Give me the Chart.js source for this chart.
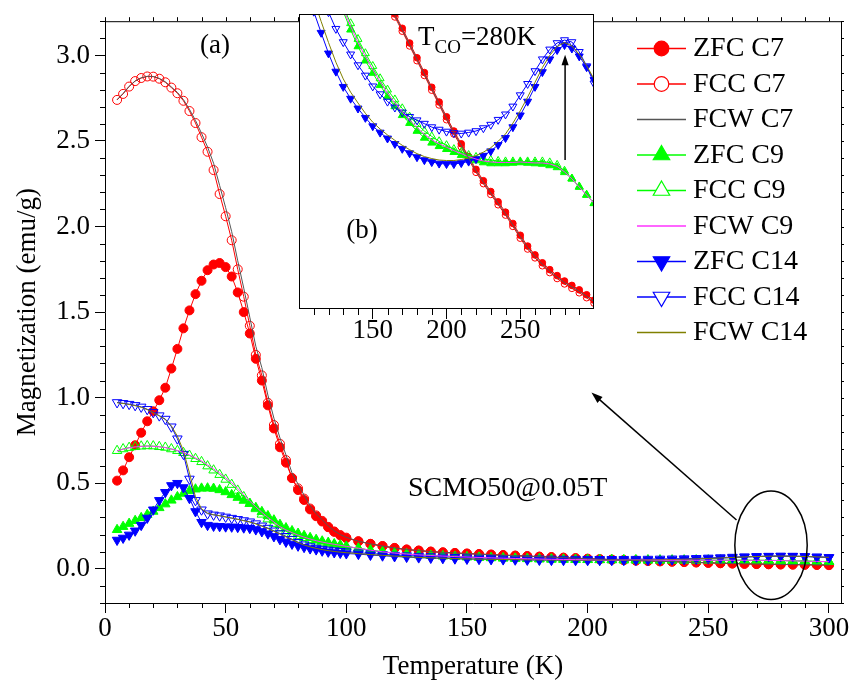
<!DOCTYPE html>
<html>
<head>
<meta charset="utf-8">
<script src="https://cdn.jsdelivr.net/npm/chart.js@4.4.0/dist/chart.umd.min.js"></script>
<style>
  body { margin: 0; background: #fff; }
  #wrap { position: relative; width: 854px; height: 689px; }
  #main { position: absolute; left: 0; top: 0; }
  #inset { position: absolute; left: 259px; top: 0; }
</style>
</head>
<body>
<div id="wrap">
  <canvas id="main" width="854" height="689"></canvas>
  <canvas id="inset" width="350" height="350"></canvas>
</div>
<script>
const FONT = "'Liberation Serif', 'Times New Roman', serif";

// temperature (K) of every measured point
const temps = [5, 7.5, 10, 12.5, 15, 17.5, 20, 22.5, 25, 27.5, 30, 32.5, 35, 37.5, 40, 42.5, 45, 47.5, 50, 52.5,
  55, 57.5, 60, 62.5, 65, 67.5, 70, 72.5, 75, 77.5, 80, 82.5, 85, 87.5, 90, 92.5, 95, 97.5, 100,
  105, 110, 115, 120, 125, 130, 135, 140, 145, 150, 155, 160, 165, 170, 175, 180, 185, 190, 195, 200,
  205, 210, 215, 220, 225, 230, 235, 240, 245, 250, 255, 260, 265, 270, 275, 280, 285, 290, 295, 300];

// magnetization (emu/g)
const zfcC7 = [0.515, 0.575, 0.652, 0.722, 0.795, 0.862, 0.920, 0.985, 1.058, 1.170, 1.285, 1.405, 1.510, 1.605, 1.683, 1.745, 1.778, 1.787, 1.763, 1.708,
  1.615, 1.500, 1.375, 1.227, 1.100, 0.955, 0.820, 0.710, 0.620, 0.530, 0.460, 0.402, 0.347, 0.307, 0.276, 0.243, 0.216, 0.195, 0.179,
  0.161, 0.146, 0.133, 0.122, 0.113, 0.1065, 0.1006, 0.0961, 0.0926, 0.0891, 0.0861, 0.0831, 0.0800, 0.0771, 0.0741, 0.0711, 0.0681, 0.0651, 0.0621, 0.0591,
  0.0562, 0.0536, 0.0510, 0.0484, 0.0461, 0.0439, 0.0418, 0.0397, 0.0374, 0.0350, 0.0328, 0.0310, 0.0294, 0.0280, 0.0268, 0.0257, 0.0248, 0.0239, 0.0229, 0.0218];
const fccC7 = [2.740, 2.775, 2.818, 2.850, 2.868, 2.877, 2.876, 2.864, 2.843, 2.812, 2.779, 2.735, 2.675, 2.605, 2.522, 2.437, 2.330, 2.190, 2.060, 1.920,
  1.750, 1.590, 1.420, 1.250, 1.130, 0.970, 0.840, 0.730, 0.635, 0.530, 0.470, 0.410, 0.352, 0.312, 0.280, 0.245, 0.218, 0.197, 0.182,
  0.160, 0.145, 0.132, 0.121, 0.112, 0.106, 0.100, 0.0955, 0.0920, 0.0885, 0.0855, 0.0825, 0.0794, 0.0765, 0.0735, 0.0705, 0.0675, 0.0645, 0.0615, 0.0585,
  0.0556, 0.0530, 0.0504, 0.0478, 0.0455, 0.0433, 0.0412, 0.0391, 0.0368, 0.0344, 0.0322, 0.0304, 0.0288, 0.0274, 0.0262, 0.0251, 0.0242, 0.0233, 0.0223, 0.0212];
const fcwC7 = [2.742, 2.778, 2.820, 2.851, 2.869, 2.878, 2.877, 2.866, 2.846, 2.816, 2.784, 2.742, 2.685, 2.620, 2.545, 2.465, 2.370, 2.240, 2.110, 1.970,
  1.800, 1.640, 1.470, 1.300, 1.175, 1.015, 0.880, 0.765, 0.665, 0.560, 0.495, 0.430, 0.368, 0.322, 0.287, 0.250, 0.222, 0.200, 0.184,
  0.161, 0.146, 0.133, 0.1215, 0.1125, 0.1062, 0.1003, 0.0958, 0.0922, 0.0887, 0.0857, 0.0827, 0.0797, 0.0768, 0.0738, 0.0708, 0.0678, 0.0648, 0.0618, 0.0588,
  0.0559, 0.0533, 0.0507, 0.0481, 0.0458, 0.0436, 0.0415, 0.0394, 0.0371, 0.0347, 0.0325, 0.0307, 0.0291, 0.0277, 0.0265, 0.0254, 0.0245, 0.0236, 0.0226, 0.0215];

const zfcC9 = [0.228, 0.246, 0.264, 0.281, 0.298, 0.316, 0.335, 0.356, 0.378, 0.400, 0.420, 0.440, 0.455, 0.465, 0.470, 0.471, 0.469, 0.461, 0.449, 0.432,
  0.416, 0.399, 0.381, 0.357, 0.333, 0.309, 0.284, 0.258, 0.238, 0.221, 0.206, 0.193, 0.181, 0.170, 0.161, 0.153, 0.145, 0.138, 0.131,
  0.120, 0.109, 0.099, 0.0915, 0.0855, 0.0805, 0.0768, 0.0734, 0.0705, 0.0680, 0.0655, 0.0632, 0.0612, 0.0594, 0.0578, 0.0562, 0.0548, 0.0538, 0.0531, 0.0525,
  0.0519, 0.0513, 0.0507, 0.0502, 0.0498, 0.0496, 0.0496, 0.0496, 0.0497, 0.0498, 0.0497, 0.0496, 0.0495, 0.0492, 0.0488, 0.0478, 0.0465, 0.0449, 0.0432, 0.0415];
const fccC9 = [0.690, 0.700, 0.708, 0.713, 0.716, 0.718, 0.717, 0.713, 0.709, 0.700, 0.690, 0.678, 0.662, 0.643, 0.625, 0.600, 0.576, 0.550, 0.522, 0.492,
  0.458, 0.420, 0.381, 0.350, 0.318, 0.290, 0.264, 0.238, 0.220, 0.205, 0.192, 0.181, 0.170, 0.161, 0.154, 0.147, 0.141, 0.135, 0.129,
  0.119, 0.108, 0.099, 0.092, 0.0865, 0.0815, 0.0781, 0.0749, 0.0720, 0.0694, 0.0669, 0.0646, 0.0626, 0.0608, 0.0591, 0.0576, 0.0562, 0.0551, 0.0541, 0.0533,
  0.0525, 0.0519, 0.0513, 0.0509, 0.0505, 0.0503, 0.0501, 0.0500, 0.0500, 0.0500, 0.0500, 0.0500, 0.0500, 0.0498, 0.0493, 0.0481, 0.0465, 0.0448, 0.0432, 0.0415];
const fcwC9 = [0.688, 0.699, 0.707, 0.712, 0.715, 0.717, 0.716, 0.713, 0.708, 0.700, 0.691, 0.680, 0.665, 0.648, 0.630, 0.607, 0.584, 0.559, 0.532, 0.503,
  0.470, 0.433, 0.395, 0.362, 0.330, 0.300, 0.273, 0.246, 0.227, 0.211, 0.197, 0.185, 0.174, 0.164, 0.156, 0.149, 0.143, 0.137, 0.131,
  0.120, 0.1085, 0.099, 0.092, 0.086, 0.081, 0.0775, 0.0742, 0.0713, 0.0687, 0.0662, 0.0639, 0.0619, 0.0601, 0.0584, 0.0569, 0.0555, 0.0544, 0.0536, 0.0529,
  0.0522, 0.0516, 0.0510, 0.0505, 0.0501, 0.0499, 0.0498, 0.0498, 0.0498, 0.0499, 0.0498, 0.0497, 0.0497, 0.0495, 0.0490, 0.0479, 0.0465, 0.0448, 0.0432, 0.0415];

const zfcC14 = [0.168, 0.180, 0.198, 0.222, 0.255, 0.297, 0.345, 0.400, 0.447, 0.487, 0.500, 0.475, 0.412, 0.335, 0.272, 0.255, 0.250, 0.248, 0.246, 0.245,
  0.243, 0.240, 0.237, 0.229, 0.218, 0.205, 0.189, 0.172, 0.157, 0.145, 0.134, 0.126, 0.118, 0.112, 0.105, 0.099, 0.095, 0.092, 0.089,
  0.0855, 0.0805, 0.0762, 0.0720, 0.0683, 0.0652, 0.0628, 0.0608, 0.0589, 0.0572, 0.0559, 0.0547, 0.0536, 0.0526, 0.0517, 0.0509, 0.0503, 0.0499, 0.0496, 0.0495,
  0.0495, 0.0497, 0.0500, 0.0505, 0.0512, 0.0521, 0.0534, 0.0548, 0.0570, 0.0594, 0.0622, 0.0652, 0.0682, 0.0708, 0.0727, 0.0737, 0.0730, 0.0714, 0.0692, 0.0666];
const fccC14 = [0.972, 0.967, 0.962, 0.955, 0.946, 0.932, 0.914, 0.895, 0.875, 0.830, 0.760, 0.670, 0.525, 0.400, 0.345, 0.322, 0.315, 0.310, 0.303, 0.296,
  0.289, 0.282, 0.275, 0.264, 0.251, 0.238, 0.222, 0.206, 0.190, 0.173, 0.155, 0.141, 0.130, 0.121, 0.115, 0.110, 0.106, 0.103, 0.100,
  0.094, 0.089, 0.0845, 0.0804, 0.0770, 0.0743, 0.0718, 0.0696, 0.0675, 0.0653, 0.0637, 0.0622, 0.0610, 0.0600, 0.0591, 0.0584, 0.0577, 0.0570, 0.0565, 0.0561,
  0.0558, 0.0557, 0.0559, 0.0562, 0.0568, 0.0575, 0.0585, 0.0596, 0.0612, 0.0635, 0.0658, 0.0684, 0.0708, 0.0728, 0.0741, 0.0747, 0.0743, 0.0723, 0.0694, 0.0659];
const fcwC14 = [0.970, 0.966, 0.960, 0.953, 0.944, 0.930, 0.912, 0.893, 0.872, 0.835, 0.775, 0.690, 0.560, 0.420, 0.350, 0.325, 0.316, 0.310, 0.303, 0.296,
  0.289, 0.281, 0.273, 0.262, 0.249, 0.235, 0.219, 0.203, 0.186, 0.170, 0.153, 0.139, 0.128, 0.119, 0.112, 0.106, 0.101, 0.097, 0.094,
  0.0885, 0.0830, 0.0785, 0.0742, 0.0702, 0.0668, 0.0641, 0.0619, 0.0598, 0.0580, 0.0566, 0.0554, 0.0543, 0.0533, 0.0524, 0.0516, 0.0510, 0.0506, 0.0503, 0.0502,
  0.0502, 0.0504, 0.0507, 0.0512, 0.0519, 0.0528, 0.0541, 0.0556, 0.0578, 0.0603, 0.0631, 0.0661, 0.0691, 0.0716, 0.0734, 0.0742, 0.0735, 0.0718, 0.0695, 0.0668];

const xTicks = [0, 50, 100, 150, 200, 250, 300];
const yTicks = [0, 0.5, 1, 1.5, 2, 2.5, 3];
const insetTicks = [150, 200, 250];

const RED = '#ff0000', GREEN = '#00ff00', BLUE = '#0000ff';

function pts(vals) {
  return temps.map((t, i) => ({ x: t, y: vals[i] }));
}

function makeSets(small) {
  const cr = small ? 3.3 : 4.5, tr = small ? 4.6 : 5.5;
  const clip = small ? 0 : undefined;
  const m = (label, vals, color, style, filled, rot, order) => ({
    label, data: pts(vals), showLine: true, borderColor: color, borderWidth: 1,
    pointStyle: style, pointRotation: rot, pointRadius: style === 'circle' ? cr : tr,
    pointBorderColor: color, pointBackgroundColor: filled ? color : 'rgba(0,0,0,0)',
    pointBorderWidth: 1, order, clip, filled
  });
  const l = (label, vals, color) => ({
    label, data: pts(vals), showLine: true, borderColor: color, borderWidth: 1,
    pointRadius: 0, order: 0, clip, isLine: true
  });
  return [
    m('ZFC C7', zfcC7, RED, 'circle', true, 0, 3),
    m('FCC C7', fccC7, RED, 'circle', false, 0, 3),
    l('FCW C7', fcwC7, '#555555'),
    m('ZFC C9', zfcC9, GREEN, 'triangle', true, 0, 2),
    m('FCC C9', fccC9, GREEN, 'triangle', false, 0, 2),
    l('FCW C9', fcwC9, '#ff33ff'),
    m('ZFC C14', zfcC14, BLUE, 'triangle', true, 180, 1),
    m('FCC C14', fccC14, BLUE, 'triangle', false, 180, 1),
    l('FCW C14', fcwC14, '#808000')
  ];
}

function drawMarker(ctx, style, rot, r, x, y, fill, stroke) {
  ctx.beginPath();
  if (style === 'circle') {
    ctx.arc(x, y, r, 0, Math.PI * 2);
  } else {
    let a = rot * Math.PI / 180;
    for (let k = 0; k < 3; k++) {
      const px = x + Math.sin(a) * r, py = y - Math.cos(a) * r;
      k ? ctx.lineTo(px, py) : ctx.moveTo(px, py);
      a += Math.PI * 2 / 3;
    }
    ctx.closePath();
  }
  ctx.fillStyle = fill; ctx.fill();
  ctx.strokeStyle = stroke; ctx.lineWidth = 1.2; ctx.stroke();
}

function arrow(ctx, x1, y1, x2, y2, head) {
  const ang = Math.atan2(y2 - y1, x2 - x1);
  ctx.beginPath();
  ctx.moveTo(x1, y1);
  ctx.lineTo(x2 - Math.cos(ang) * head * 0.8, y2 - Math.sin(ang) * head * 0.8);
  ctx.stroke();
  ctx.beginPath();
  ctx.moveTo(x2, y2);
  ctx.lineTo(x2 - head * Math.cos(ang - 0.33), y2 - head * Math.sin(ang - 0.33));
  ctx.lineTo(x2 - head * Math.cos(ang + 0.33), y2 - head * Math.sin(ang + 0.33));
  ctx.closePath();
  ctx.fill();
}

// frame, minor ticks, annotations and legend of the main plot
const mainDeco = {
  id: 'mainDeco',
  afterDraw(chart) {
    const { ctx, chartArea: a, scales: { x, y } } = chart;
    ctx.save();
    ctx.strokeStyle = '#000';
    ctx.lineWidth = 1;
    ctx.beginPath();
    ctx.moveTo(a.left, a.top + 0.5); ctx.lineTo(a.right + 0.5, a.top + 0.5); ctx.lineTo(a.right + 0.5, a.bottom);
    for (let t = 0; t <= 300; t += 10) {
      const px = Math.round(x.getPixelForValue(t)) + 0.5;
      if (t % 50) { ctx.moveTo(px, a.bottom); ctx.lineTo(px, a.bottom + 5); }
      ctx.moveTo(px, a.top); ctx.lineTo(px, a.top - 4);
    }
    for (let k = -2; k <= 32; k++) {
      const py = Math.round(y.getPixelForValue(k / 10)) + 0.5;
      if (k % 5) { ctx.moveTo(a.left, py); ctx.lineTo(a.left - 5, py); }
      ctx.moveTo(a.right, py); ctx.lineTo(a.right + 3, py);
    }
    ctx.stroke();

    ctx.fillStyle = '#000';
    ctx.font = '27px ' + FONT;
    ctx.textAlign = 'center';
    ctx.textBaseline = 'middle';
    ctx.fillText('(a)', 215, 46);
    ctx.textAlign = 'left';
    ctx.textBaseline = 'alphabetic';
    ctx.font = '28px ' + FONT;
    ctx.fillText('SCMO50@0.05T', 408, 496);

    // ellipse marking the zoomed region and arrow to the inset
    const cx = x.getPixelForValue(276), cy = y.getPixelForValue(0.137);
    const rx = x.getPixelForValue(291) - cx, ry = cy - y.getPixelForValue(0.454);
    ctx.lineWidth = 1.5;
    ctx.beginPath();
    ctx.ellipse(cx, cy, rx, ry, 0, 0, Math.PI * 2);
    ctx.stroke();
    arrow(ctx, x.getPixelForValue(261.7), y.getPixelForValue(0.285),
      x.getPixelForValue(201.6), y.getPixelForValue(1.03), 12);

    // legend
    chart.data.datasets.forEach((ds, i) => {
      const yy = 48.5 + i * 35.5;
      ctx.strokeStyle = ds.borderColor;
      ctx.lineWidth = 1.5;
      ctx.beginPath();
      ctx.moveTo(637, yy); ctx.lineTo(686, yy);
      ctx.stroke();
      if (!ds.isLine) {
        drawMarker(ctx, ds.pointStyle, ds.pointRotation, ds.pointStyle === 'circle' ? 7.3 : 9.5,
          661.5, yy, ds.filled ? ds.borderColor : '#fff', ds.borderColor);
      }
      ctx.fillStyle = '#000';
      ctx.font = '28px ' + FONT;
      ctx.fillText(ds.label, 693, yy + 7.7);
    });
    ctx.restore();
  }
};

// white box, frame, ticks and labels of the inset
const insetDeco = {
  id: 'insetDeco',
  beforeDraw(chart) {
    const { ctx, chartArea: a } = chart;
    ctx.save();
    ctx.fillStyle = '#fff';
    ctx.fillRect(a.left, 0, a.right - a.left, a.bottom);
    ctx.restore();
  },
  afterDraw(chart) {
    const { ctx, chartArea: a, scales: { x, y } } = chart;
    ctx.save();
    ctx.strokeStyle = '#000';
    ctx.lineWidth = 1;
    ctx.strokeRect(a.left + 0.5, a.top + 0.5, a.right - a.left - 1, a.bottom - a.top - 1);
    ctx.beginPath();
    for (let t = 110; t < 300; t += 10) {
      const px = Math.round(x.getPixelForValue(t)) + 0.5;
      if (t % 50) { ctx.moveTo(px, a.bottom); ctx.lineTo(px, a.bottom + 6); }
    }
    ctx.stroke();

    ctx.fillStyle = '#000';
    ctx.textBaseline = 'alphabetic';
    ctx.textAlign = 'left';
    ctx.font = '27px ' + FONT;
    ctx.fillText('T', 159, 45);
    const wT = ctx.measureText('T').width;
    ctx.font = '19px ' + FONT;
    ctx.fillText('CO', 159 + wT, 53);
    const wS = ctx.measureText('CO').width;
    ctx.font = '27px ' + FONT;
    ctx.fillText('=280K', 159 + wT + wS, 45);
    ctx.textAlign = 'center';
    ctx.textBaseline = 'middle';
    ctx.fillText('(b)', 103, 231);

    ctx.lineWidth = 1.5;
    arrow(ctx, x.getPixelForValue(280.4), y.getPixelForValue(0.0503),
      x.getPixelForValue(280.4), y.getPixelForValue(0.0717), 11);
    ctx.restore();
  }
};

const tickFont = { family: FONT, size: 27 };

new Chart(document.getElementById('main'), {
  type: 'scatter',
  data: { datasets: makeSets(false) },
  options: {
    responsive: false, animation: false, devicePixelRatio: 1, events: [],
    layout: { padding: { left: 0, top: 14, right: 13, bottom: 0 } },
    plugins: { legend: { display: false }, tooltip: { enabled: false } },
    scales: {
      x: {
        type: 'linear', min: 0, max: 305,
        afterBuildTicks: s => { s.ticks = xTicks.map(v => ({ value: v })); },
        afterFit: s => { s.height = 86; },
        grid: { drawOnChartArea: false, drawTicks: true, tickLength: 10, color: '#000' },
        border: { color: '#000', width: 1 },
        ticks: { font: tickFont, color: '#000', padding: 0, maxRotation: 0, callback: v => String(v) },
        title: { display: true, text: 'Temperature (K)', font: tickFont, color: '#000', padding: { top: 0, bottom: 6 } }
      },
      y: {
        type: 'linear', min: -0.2, max: 3.2,
        afterBuildTicks: s => { s.ticks = yTicks.map(v => ({ value: v })); },
        afterFit: s => { s.width = 105; },
        grid: { drawOnChartArea: false, drawTicks: true, tickLength: 10, color: '#000' },
        border: { color: '#000', width: 1 },
        ticks: { font: tickFont, color: '#000', padding: 5, callback: v => v.toFixed(1) },
        title: { display: true, text: 'Magnetization (emu/g)', font: tickFont, color: '#000', padding: { top: 12, bottom: 0 } }
      }
    }
  },
  plugins: [mainDeco]
});

new Chart(document.getElementById('inset'), {
  type: 'scatter',
  data: { datasets: makeSets(true) },
  options: {
    responsive: false, animation: false, devicePixelRatio: 1, events: [],
    layout: { padding: { left: 40, top: 14, right: 15, bottom: 0 } },
    plugins: { legend: { display: false }, tooltip: { enabled: false } },
    scales: {
      x: {
        type: 'linear', min: 100, max: 300,
        afterBuildTicks: s => { s.ticks = insetTicks.map(v => ({ value: v })); },
        afterFit: s => { s.height = 41; },
        grid: { drawOnChartArea: false, drawTicks: true, tickLength: 10, color: '#000' },
        border: { display: false },
        ticks: { font: tickFont, color: '#000', padding: -4, maxRotation: 0, callback: v => String(v) }
      },
      y: { type: 'linear', min: 0.02, max: 0.08, display: false }
    }
  },
  plugins: [insetDeco]
});
</script>
</body>
</html>
